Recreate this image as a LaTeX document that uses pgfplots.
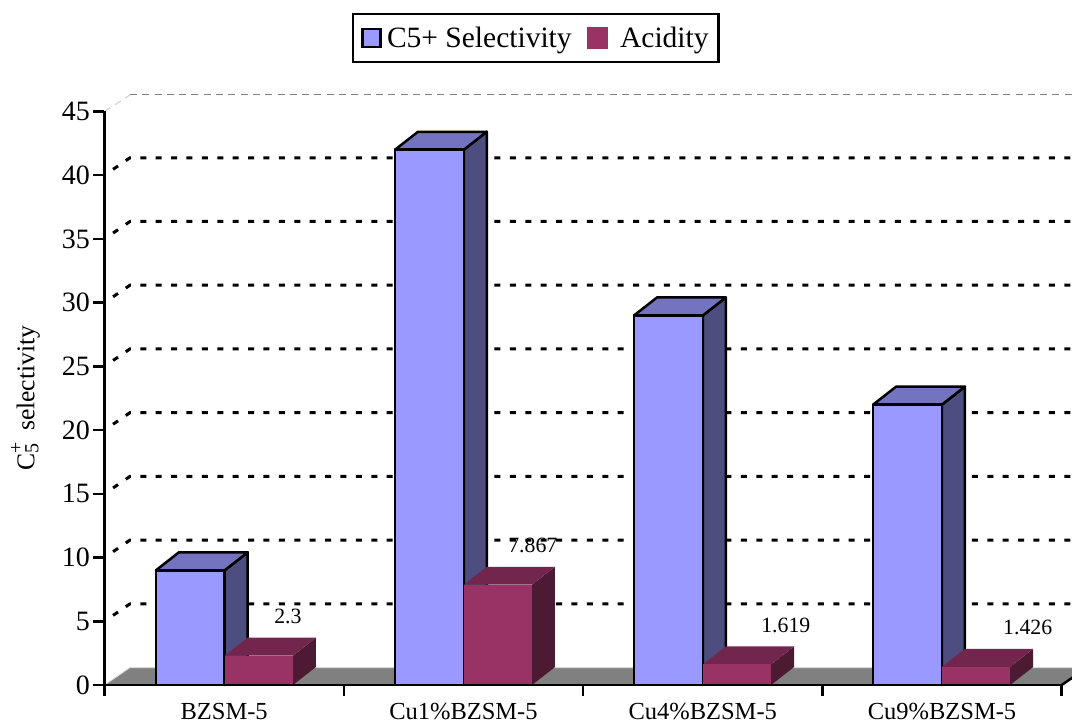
\documentclass[border=0pt]{standalone}
\usepackage{fontspec}
\setmainfont{Liberation Serif}
\usepackage{pgfplots}
\pgfplotsset{compat=1.18}

\definecolor{bluefront}{HTML}{9999FF}
\definecolor{bluetop}{HTML}{7373BF}
\definecolor{blueside}{HTML}{4D4D80}
\definecolor{redfront}{HTML}{993366}
\definecolor{redtop}{HTML}{73264D}
\definecolor{redside}{HTML}{4D1A33}

% depth of the bars and of the back wall, in axis units
\newcommand{\bardx}{0.096}
\newcommand{\bardy}{1.41}
\newcommand{\walldx}{0.1065}
\newcommand{\walldy}{1.37}

% #1 left edge, #2 width, #3 value, #4 colour prefix, #5 outline
\newcommand{\threedbar}[5]{%
  \pgfmathsetmacro\xr{#1+#2}%
  \pgfmathsetmacro\xbl{#1+\bardx}%
  \pgfmathsetmacro\xbr{#1+#2+\bardx}%
  \pgfmathsetmacro\ybt{#3+\bardy}%
  \addplot[forget plot,fill=#4side,draw=#5,line width=2.5pt,line join=round]
    coordinates {(\xr,0) (\xbr,\bardy) (\xbr,\ybt) (\xr,#3)} -- cycle;
  \addplot[forget plot,fill=#4top,draw=#5,line width=2.5pt,line join=round]
    coordinates {(#1,#3) (\xbl,\ybt) (\xbr,\ybt) (\xr,#3)} -- cycle;
  \addplot[forget plot,fill=#4front,draw=#5,line width=2.5pt,line join=round]
    coordinates {(#1,0) (#1,#3) (\xr,#3) (\xr,0)} -- cycle;
}

% dashed gridline with its short diagonal on the side wall
\newcommand{\wallgrid}[1]{%
  \pgfmathsetmacro\yb{#1+\walldy}%
  \addplot[forget plot,black,line width=3pt,dash pattern=on 6pt off 9.4pt,dash phase=5pt]
    coordinates {(0,#1) (\walldx,\yb) (4.05,\yb)};
}

\begin{document}
\begin{tikzpicture}
\useasboundingbox (0,0) rectangle (1072pt,726pt);
\begin{axis}[
    at={(104.5pt,41pt)},
    anchor=south west,
    scale only axis,
    width=957.2pt,
    height=573.5pt,
    xmin=0, xmax=4,
    ymin=0, ymax=45,
    clip=false,
    axis on top,
    axis x line*=bottom,
    axis y line*=left,
    axis line style={line width=2.5pt,-},
    tick style={black,line width=2.5pt},
    tick align=outside,
    major tick length=11pt,
    xtick={0,1,2,3,4},
    x tick label as interval,
    xticklabels={BZSM-5,Cu1\%BZSM-5,Cu4\%BZSM-5,Cu9\%BZSM-5},
    x tick label style={font=\fontsize{24.5}{27}\selectfont,yshift=-6pt,inner sep=1pt},
    ytick={0,5,...,45},
    y tick label style={font=\fontsize{28}{30}\selectfont},
    /pgf/number format/assume math mode=true,
    ylabel={C\rlap{\raisebox{12pt}{\fontsize{20}{22}\selectfont +}}\raisebox{-4pt}{\fontsize{20}{22}\selectfont 5}\hspace{13pt}selectivity},
    y label style={at={(axis description cs:-0.0825,0.5)},anchor=center,font=\fontsize{25.6}{28}\selectfont},
    legend columns=2,
    legend style={
      at={(0.4506,1.128)},anchor=center,
      draw=black,line width=2.5pt,
      font=\fontsize{29.5}{32}\selectfont,
      inner xsep=8pt,inner ysep=11pt,
    },
]
\addlegendimage{legend image code/.code={
    \draw[fill=bluefront,draw=black,line width=2.5pt] (0pt,-9pt) rectangle (18pt,9pt);
    \path (21.5pt,0pt);
}}
\addlegendentry{C5+ Selectivity}
\addlegendimage{legend image code/.code={
    \path (0pt,0pt);
    \fill[redfront] (13pt,-9.5pt) rectangle (32pt,9.5pt);
    \path (42pt,0pt);
}}
\addlegendentry{Acidity\hspace{7pt}}

% back wall top edge
\addplot[forget plot,black!20,line width=1pt,dash pattern=on 7pt off 5.3pt]
  coordinates {(0,45) (0.1065,46.3)};
\addplot[forget plot,gray,line width=1pt,dash pattern=on 7pt off 5.3pt]
  coordinates {(0.1065,46.3) (4.05,46.3)};

% gridlines
\wallgrid{5}
\wallgrid{10}
\wallgrid{15}
\wallgrid{20}
\wallgrid{25}
\wallgrid{30}
\wallgrid{35}
\wallgrid{40}

% floor
\addplot[forget plot,fill=gray,draw=black!15,line width=1pt]
  coordinates {(0,0) (0.1065,1.37) (4.1065,1.37) (4,0)} -- cycle;
\addplot[forget plot,black,line width=2.5pt]
  coordinates {(4,0) (4.1065,1.37)};

\threedbar{0.215}{0.2875}{9}{blue}{black}
\threedbar{0.5025}{0.285}{2.3}{red}{none}
\threedbar{1.214}{0.2875}{42}{blue}{black}
\threedbar{1.5015}{0.285}{7.867}{red}{none}
\threedbar{2.213}{0.2875}{29}{blue}{black}
\threedbar{2.5005}{0.285}{1.619}{red}{none}
\threedbar{3.212}{0.2875}{22}{blue}{black}
\threedbar{3.4995}{0.285}{1.426}{red}{none}

% value labels of the acidity series
\addplot[forget plot,only marks,mark=none,point meta=explicit symbolic,
    nodes near coords,
    nodes near coords style={anchor=center,yshift=39pt,font=\fontsize{21.8}{24}\selectfont}]
  coordinates {
    (0.7665,2.3)[2.3]
    (1.790,7.867)[7.867]
    (2.847,1.619)[1.619]
    (3.858,1.426)[1.426]
  };
\end{axis}
\end{tikzpicture}
\end{document}
